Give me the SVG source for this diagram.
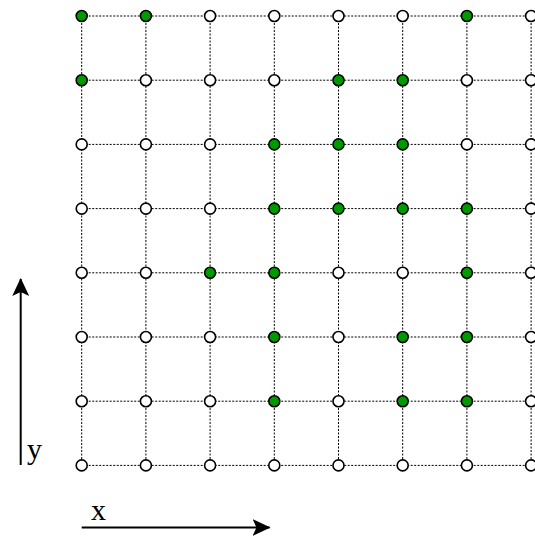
<svg xmlns="http://www.w3.org/2000/svg" width="535" height="538" viewBox="0 0 535 538">
<style>
.grid{stroke:#000;stroke-width:1;stroke-dasharray:2 1.5;fill:none}
.n{stroke:#000;stroke-width:1.6}
.w{fill:#fff}
.g{fill:#009900}
.axis{stroke:#000;stroke-width:2;fill:none}
.lbl{font-family:"Liberation Serif","Times New Roman",serif;font-size:30px;fill:#000}
</style>
<defs>
<marker id="arr" viewBox="0 0 18 18" refX="17" refY="9" markerWidth="18" markerHeight="18" markerUnits="userSpaceOnUse" orient="auto">
<path d="M0,0.5 L18,9 L0,17.5 L4,9 Z" fill="#000"/>
</marker>
</defs>
<g id="connectors">
<path class="grid" d="M81.7,16H535M81.7,80.2H535M81.7,144.4H535M81.7,208.6H535M81.7,272.8H535M81.7,337H535M81.7,401.2H535M81.7,465.4H535"/>
<path class="grid" d="M81.7,16V465.4M145.9,16V465.4M210.1,16V465.4M274.3,16V465.4M338.5,16V465.4M402.7,16V465.4M466.9,16V465.4M531.1,16V465.4"/>
<line class="axis" x1="20.7" y1="465" x2="20.7" y2="279" marker-end="url(#arr)"/>
<line class="axis" x1="81.7" y1="527.5" x2="269.5" y2="527.5" marker-end="url(#arr)"/>
</g>
<text class="lbl" x="27" y="459">y</text>
<text class="lbl" x="91" y="520">x</text>
<g id="r0">
<g id="n0_0"><circle class="n g" cx="81.7" cy="16" r="5.5"/></g>
<g id="n1_0"><circle class="n g" cx="145.9" cy="16" r="5.5"/></g>
<g id="n2_0"><circle class="n w" cx="210.1" cy="16" r="5.5"/></g>
<g id="n3_0"><circle class="n w" cx="274.3" cy="16" r="5.5"/></g>
<g id="n4_0"><circle class="n w" cx="338.5" cy="16" r="5.5"/></g>
<g id="n5_0"><circle class="n w" cx="402.7" cy="16" r="5.5"/></g>
<g id="n6_0"><circle class="n g" cx="466.9" cy="16" r="5.5"/></g>
<g id="n7_0"><circle class="n w" cx="531.1" cy="16" r="5.5"/></g>
</g>
<g id="r1">
<g id="n0_1"><circle class="n g" cx="81.7" cy="80.2" r="5.5"/></g>
<g id="n1_1"><circle class="n w" cx="145.9" cy="80.2" r="5.5"/></g>
<g id="n2_1"><circle class="n w" cx="210.1" cy="80.2" r="5.5"/></g>
<g id="n3_1"><circle class="n w" cx="274.3" cy="80.2" r="5.5"/></g>
<g id="n4_1"><circle class="n g" cx="338.5" cy="80.2" r="5.5"/></g>
<g id="n5_1"><circle class="n g" cx="402.7" cy="80.2" r="5.5"/></g>
<g id="n6_1"><circle class="n w" cx="466.9" cy="80.2" r="5.5"/></g>
<g id="n7_1"><circle class="n w" cx="531.1" cy="80.2" r="5.5"/></g>
</g>
<g id="r2">
<g id="n0_2"><circle class="n w" cx="81.7" cy="144.4" r="5.5"/></g>
<g id="n1_2"><circle class="n w" cx="145.9" cy="144.4" r="5.5"/></g>
<g id="n2_2"><circle class="n w" cx="210.1" cy="144.4" r="5.5"/></g>
<g id="n3_2"><circle class="n g" cx="274.3" cy="144.4" r="5.5"/></g>
<g id="n4_2"><circle class="n g" cx="338.5" cy="144.4" r="5.5"/></g>
<g id="n5_2"><circle class="n g" cx="402.7" cy="144.4" r="5.5"/></g>
<g id="n6_2"><circle class="n w" cx="466.9" cy="144.4" r="5.5"/></g>
<g id="n7_2"><circle class="n w" cx="531.1" cy="144.4" r="5.5"/></g>
</g>
<g id="r3">
<g id="n0_3"><circle class="n w" cx="81.7" cy="208.6" r="5.5"/></g>
<g id="n1_3"><circle class="n w" cx="145.9" cy="208.6" r="5.5"/></g>
<g id="n2_3"><circle class="n w" cx="210.1" cy="208.6" r="5.5"/></g>
<g id="n3_3"><circle class="n g" cx="274.3" cy="208.6" r="5.5"/></g>
<g id="n4_3"><circle class="n g" cx="338.5" cy="208.6" r="5.5"/></g>
<g id="n5_3"><circle class="n g" cx="402.7" cy="208.6" r="5.5"/></g>
<g id="n6_3"><circle class="n g" cx="466.9" cy="208.6" r="5.5"/></g>
<g id="n7_3"><circle class="n w" cx="531.1" cy="208.6" r="5.5"/></g>
</g>
<g id="r4">
<g id="n0_4"><circle class="n w" cx="81.7" cy="272.8" r="5.5"/></g>
<g id="n1_4"><circle class="n w" cx="145.9" cy="272.8" r="5.5"/></g>
<g id="n2_4"><circle class="n g" cx="210.1" cy="272.8" r="5.5"/></g>
<g id="n3_4"><circle class="n g" cx="274.3" cy="272.8" r="5.5"/></g>
<g id="n4_4"><circle class="n w" cx="338.5" cy="272.8" r="5.5"/></g>
<g id="n5_4"><circle class="n w" cx="402.7" cy="272.8" r="5.5"/></g>
<g id="n6_4"><circle class="n g" cx="466.9" cy="272.8" r="5.5"/></g>
<g id="n7_4"><circle class="n w" cx="531.1" cy="272.8" r="5.5"/></g>
</g>
<g id="r5">
<g id="n0_5"><circle class="n w" cx="81.7" cy="337" r="5.5"/></g>
<g id="n1_5"><circle class="n w" cx="145.9" cy="337" r="5.5"/></g>
<g id="n2_5"><circle class="n w" cx="210.1" cy="337" r="5.5"/></g>
<g id="n3_5"><circle class="n g" cx="274.3" cy="337" r="5.5"/></g>
<g id="n4_5"><circle class="n w" cx="338.5" cy="337" r="5.5"/></g>
<g id="n5_5"><circle class="n g" cx="402.7" cy="337" r="5.5"/></g>
<g id="n6_5"><circle class="n g" cx="466.9" cy="337" r="5.5"/></g>
<g id="n7_5"><circle class="n w" cx="531.1" cy="337" r="5.5"/></g>
</g>
<g id="r6">
<g id="n0_6"><circle class="n w" cx="81.7" cy="401.2" r="5.5"/></g>
<g id="n1_6"><circle class="n w" cx="145.9" cy="401.2" r="5.5"/></g>
<g id="n2_6"><circle class="n w" cx="210.1" cy="401.2" r="5.5"/></g>
<g id="n3_6"><circle class="n g" cx="274.3" cy="401.2" r="5.5"/></g>
<g id="n4_6"><circle class="n w" cx="338.5" cy="401.2" r="5.5"/></g>
<g id="n5_6"><circle class="n g" cx="402.7" cy="401.2" r="5.5"/></g>
<g id="n6_6"><circle class="n g" cx="466.9" cy="401.2" r="5.5"/></g>
<g id="n7_6"><circle class="n w" cx="531.1" cy="401.2" r="5.5"/></g>
</g>
<g id="r7">
<g id="n0_7"><circle class="n w" cx="81.7" cy="465.4" r="5.5"/></g>
<g id="n1_7"><circle class="n w" cx="145.9" cy="465.4" r="5.5"/></g>
<g id="n2_7"><circle class="n w" cx="210.1" cy="465.4" r="5.5"/></g>
<g id="n3_7"><circle class="n w" cx="274.3" cy="465.4" r="5.5"/></g>
<g id="n4_7"><circle class="n w" cx="338.5" cy="465.4" r="5.5"/></g>
<g id="n5_7"><circle class="n w" cx="402.7" cy="465.4" r="5.5"/></g>
<g id="n6_7"><circle class="n w" cx="466.9" cy="465.4" r="5.5"/></g>
<g id="n7_7"><circle class="n w" cx="531.1" cy="465.4" r="5.5"/></g>
</g>
</svg>
